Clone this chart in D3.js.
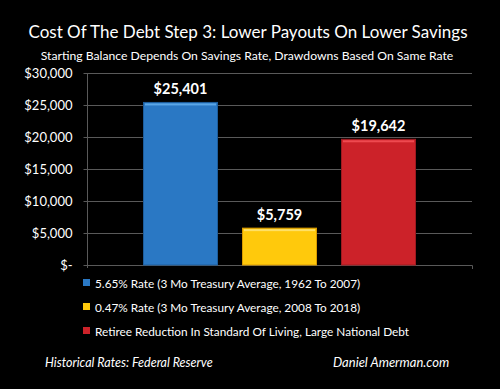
<!DOCTYPE html>
<html>
<head>
<meta charset="utf-8">
<script src="https://cdn.jsdelivr.net/npm/d3@7"></script>
<style>
  body { margin: 0; background: #000; }
  svg { display: block; font-family: Lato, "Open Sans", sans-serif; }
</style>
</head>
<body>
<div id="chart"></div>
<script>
const series = [
  '5.65% Rate (3 Mo Treasury Average, 1962 To 2007)',
  '0.47% Rate (3 Mo Treasury Average, 2008 To 2018)',
  'Retiree Reduction In Standard Of Living, Large National Debt'
];
const values = [25401, 5759, 19642];
const fills = ['#2a78c4', '#ffc90c', '#cc2229'];
const tops = ['#5aa6e6', '#ffe066', '#ee4a50'];
const edges = ['#1d5d9c', '#d99a00', '#9e1a20'];
const yTicks = [0, 5000, 10000, 15000, 20000, 25000, 30000];

const width = 500, height = 389;
const svg = d3.select('#chart').append('svg')
  .attr('width', width).attr('height', height);

svg.append('rect').attr('width', width).attr('height', height).attr('fill', '#000');

svg.append('text')
  .attr('x', 248).attr('y', 38)
  .attr('text-anchor', 'middle')
  .attr('fill', '#fff').attr('font-size', 17)
  .text('Cost Of The Debt Step 3: Lower Payouts On Lower Savings');

svg.append('text')
  .attr('x', 247).attr('y', 60)
  .attr('text-anchor', 'middle')
  .attr('fill', '#fff').attr('font-size', 12.2)
  .text('Starting Balance Depends On Savings Rate, Drawdowns Based On Same Rate');

const left = 87, right = 472;
const y = d3.scaleLinear().domain([0, 30000]).range([265, 73]);
const x = d3.scaleBand().domain(series).range([131, 428])
  .paddingInner(24 / 99).paddingOuter(12 / 99);

// gridlines
svg.append('g')
  .selectAll('line')
  .data(yTicks.filter(d => d > 0))
  .enter().append('line')
  .attr('x1', left).attr('x2', right)
  .attr('y1', d => Math.round(y(d)) + 0.5).attr('y2', d => Math.round(y(d)) + 0.5)
  .attr('stroke', '#595959').attr('stroke-width', 1);

// y axis
const yAxis = svg.append('g')
  .attr('transform', `translate(${left + 0.5},0)`)
  .call(d3.axisLeft(y).tickValues(yTicks).tickSize(4).tickPadding(11)
    .tickFormat(d => d === 0 ? '$-' : d3.format('$,')(d)));
yAxis.select('.domain').attr('stroke', '#595959').attr('d', 'M0,73V268');
yAxis.selectAll('.tick line').attr('stroke', '#595959');
yAxis.selectAll('.tick text')
  .attr('fill', '#fff').attr('font-size', 13)
  .attr('font-family', 'Lato, "Open Sans", sans-serif');

// x axis baseline
svg.append('path')
  .attr('d', `M${left},265.5H${right + 0.5}V269`)
  .attr('fill', 'none').attr('stroke', '#595959');

// bars
const bars = svg.append('g').selectAll('g')
  .data(series).enter().append('g');

bars.append('rect')
  .attr('x', d => x(d) + 0.5)
  .attr('y', (d, i) => y(values[i]))
  .attr('width', x.bandwidth() - 1)
  .attr('height', (d, i) => y(0) - y(values[i]))
  .attr('fill', (d, i) => fills[i])
  .attr('stroke', (d, i) => edges[i]).attr('stroke-width', 1);

bars.append('rect')
  .attr('x', d => x(d) + 2)
  .attr('y', (d, i) => y(values[i]) + 1)
  .attr('width', x.bandwidth() - 4)
  .attr('height', 2)
  .attr('fill', (d, i) => tops[i]);

bars.append('text')
  .attr('x', d => x(d) + x.bandwidth() / 2)
  .attr('y', (d, i) => y(values[i]) - 8)
  .attr('text-anchor', 'middle')
  .attr('fill', '#fff').attr('font-size', 14.5).attr('font-weight', 'bold')
  .text((d, i) => d3.format('$,')(values[i]));

// legend
const legend = svg.append('g').selectAll('g')
  .data(series).enter().append('g')
  .attr('transform', (d, i) => `translate(83,${283 + i * 24})`);

legend.append('rect')
  .attr('x', 0).attr('y', -4).attr('width', 7).attr('height', 7)
  .attr('fill', (d, i) => fills[i]);

legend.append('text')
  .attr('x', 12).attr('y', 4.5)
  .attr('fill', '#fff').attr('font-size', 11.8)
  .text(d => d);

// footer
svg.append('text')
  .attr('x', 45).attr('y', 367)
  .attr('fill', '#fff').attr('font-size', 12.5).attr('font-style', 'italic')
  .text('Historical Rates: Federal Reserve');

svg.append('text')
  .attr('x', 333).attr('y', 367)
  .attr('fill', '#fff').attr('font-size', 13).attr('font-style', 'italic')
  .text('Daniel Amerman.com');
</script>
</body>
</html>
